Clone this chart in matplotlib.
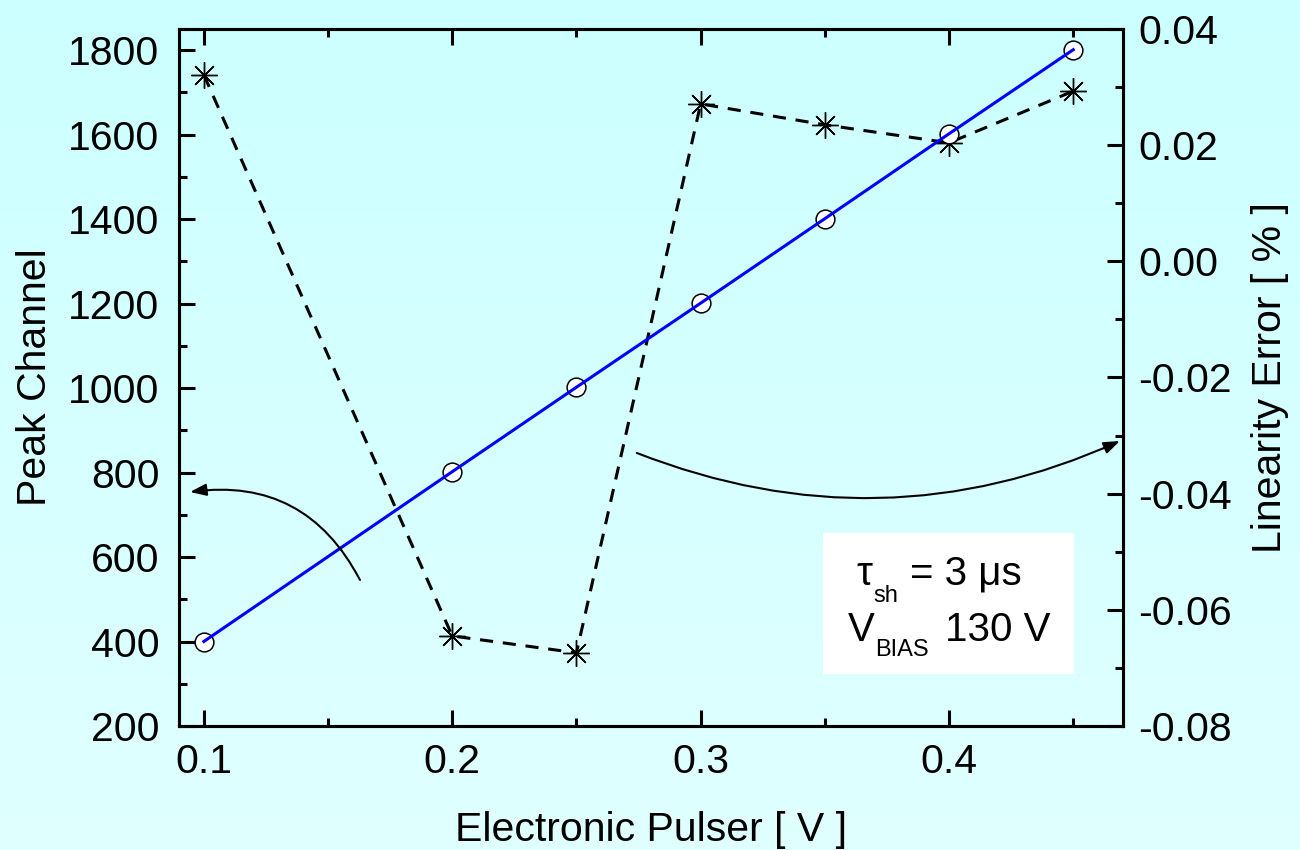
import numpy as np
import matplotlib
matplotlib.use("Agg")
import matplotlib.pyplot as plt
from matplotlib.ticker import MultipleLocator, FuncFormatter
from matplotlib.patches import Rectangle, FancyArrowPatch

plt.rcParams['font.family'] = ['Liberation Sans', 'DejaVu Sans']

# Data
pulser_v = [0.1, 0.2, 0.25, 0.3, 0.35, 0.4, 0.45]
peak_channel = [400, 802, 1002, 1201, 1401, 1602, 1801]
linearity_error = [0.0321, -0.0645, -0.0674, 0.0271, 0.0235, 0.0204, 0.0293]

x_label = "Electronic Pulser [ V ]"
y_label = "Peak Channel"
y2_label = "Linearity Error [ % ]"

fig = plt.figure(figsize=(13, 8.5), dpi=100)

# background gradient
bg = fig.add_axes([0, 0, 1, 1], zorder=-10)
grad = np.linspace(0, 1, 256).reshape(-1, 1)
top = np.array([204, 255, 255]) / 255
bot = np.array([224, 255, 255]) / 255
img = top[None, None, :] * (1 - grad[:, :, None]) + bot[None, None, :] * grad[:, :, None]
bg.imshow(img, aspect='auto', extent=[0, 1, 0, 1])
bg.axis('off')

ax = fig.add_axes([0.1377, 0.1459, 0.7261, 0.8200])
ax.set_facecolor('none')
ax2 = ax.twinx()
ax2.set_facecolor('none')

# Linearity error (right axis)
ax2.plot(pulser_v, linearity_error, color='black', lw=2.2, ls=(0, (4.3, 3.2)),
         marker=(8, 2, 0), markersize=19, markeredgewidth=1.0, markeredgecolor='black',
         zorder=3)

ax.set_zorder(ax2.get_zorder() + 1)
ax.plot(pulser_v, peak_channel, linestyle='none', marker='o', markersize=13.5,
        markerfacecolor='white', markeredgecolor='black', markeredgewidth=1.1, zorder=3)
ax.plot(pulser_v, peak_channel, color='#0000FF', lw=2.2, zorder=4)

ax.set_xlim(0.09, 0.47)
ax.set_ylim(200, 1850)
ax2.set_ylim(-0.08, 0.04)

ax.xaxis.set_major_locator(MultipleLocator(0.1))
ax.xaxis.set_minor_locator(MultipleLocator(0.05))
ax.yaxis.set_major_locator(MultipleLocator(200))
ax.yaxis.set_minor_locator(MultipleLocator(100))
ax2.yaxis.set_major_locator(MultipleLocator(0.02))
ax2.yaxis.set_minor_locator(MultipleLocator(0.01))
ax.xaxis.set_major_formatter(FuncFormatter(lambda v, p: f"{v:.1f}"))
ax2.yaxis.set_major_formatter(FuncFormatter(lambda v, p: f"{round(v, 4) + 0.0:.2f}"))

fs = 29.5
ax.tick_params(axis='x', which='both', direction='in', top=True, bottom=True,
               labelsize=fs, pad=12)
ax.tick_params(axis='y', which='both', direction='in', left=True, right=False,
               labelsize=fs, pad=14)
ax2.tick_params(axis='y', which='both', direction='in', left=False, right=True,
                labelsize=fs, pad=11)
for a in (ax, ax2):
    a.tick_params(which='major', length=11.5, width=2.2)
    a.tick_params(which='minor', length=5.8, width=2.2)
    for s in a.spines.values():
        s.set_linewidth(2.2)

ax.set_xlabel(x_label, fontsize=fs, labelpad=22)
ax.set_ylabel(y_label, fontsize=fs, labelpad=10)
ax2.set_ylabel(y2_label, fontsize=fs, labelpad=14)

# Info box
ax.add_patch(Rectangle((0.682, 0.0746), 0.266, 0.2024, transform=ax.transAxes,
                       facecolor='white', edgecolor='none', zorder=5))
tfs = 29
sfs = 17
def put(x, y, s, size):
    ax.text(x, y, s, transform=ax.transAxes, fontsize=size,
            ha='left', va='baseline', zorder=6)
put(0.718, 0.2023, "τ", tfs)
put(0.736, 0.1779, "sh", sfs)
put(0.774, 0.2023, "= 3 μs", tfs)
put(0.709, 0.1220, "V", tfs)
put(0.737, 0.1004, "BIAS", sfs)
put(0.811, 0.1220, "130 V", tfs)

# Arrows
arr1 = FancyArrowPatch((0.1917, 0.2095), (0.0117, 0.3357), transform=ax.transAxes,
                       connectionstyle="arc3,rad=0.35",
                       arrowstyle="-|>,head_length=0.65,head_width=0.24",
                       mutation_scale=15, lw=1.5, color='black', shrinkA=0, shrinkB=0,
                       zorder=6)
arr2 = FancyArrowPatch((0.485, 0.3917), (0.9968, 0.4089), transform=ax.transAxes,
                       connectionstyle="arc3,rad=0.21",
                       arrowstyle="-|>,head_length=0.65,head_width=0.24",
                       mutation_scale=15, lw=1.5, color='black', shrinkA=0, shrinkB=0,
                       zorder=6)
ax.add_patch(arr1)
ax.add_patch(arr2)

fig.savefig("out.png", dpi=100)
